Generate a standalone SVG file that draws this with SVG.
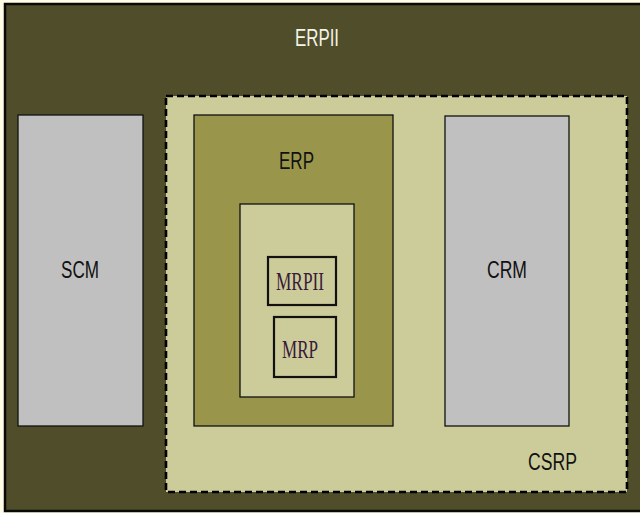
<svg xmlns="http://www.w3.org/2000/svg" width="640" height="513" viewBox="0 0 640 513">
<style>
.sans{font-family:"Liberation Sans",Arial,sans-serif;font-size:24px}
.serif{font-family:"Liberation Serif","Times New Roman",serif;font-size:25px;fill:#3a1a3a}
.box{stroke:#111;stroke-width:1.3}
</style>
<rect x="0" y="0" width="640" height="513" fill="#fffde6"/>
<g id="ERPII">
<rect x="5" y="4" width="640" height="507" fill="#504e2a" stroke="#0a0a05" stroke-width="2.5"/>
<text class="sans" x="295" y="46" textLength="44" lengthAdjust="spacingAndGlyphs" fill="#f4f4e8">ERPII</text>
</g>
<g id="CSRP">
<rect x="166" y="96" width="461" height="396" fill="#cccc9a" stroke="#000" stroke-width="2.6" stroke-dasharray="7,4"/>
<text class="sans" x="528" y="470" textLength="49" lengthAdjust="spacingAndGlyphs" fill="#111">CSRP</text>
</g>
<g id="SCM">
<rect class="box" x="18" y="115" width="125" height="311" fill="#c0c0c0"/>
<text class="sans" x="61" y="278" textLength="38" lengthAdjust="spacingAndGlyphs" fill="#111">SCM</text>
</g>
<g id="CRM">
<rect class="box" x="445" y="116" width="124" height="310" fill="#c0c0c0"/>
<text class="sans" x="487" y="278" textLength="40" lengthAdjust="spacingAndGlyphs" fill="#111">CRM</text>
</g>
<g id="ERP">
<rect class="box" x="194" y="115" width="199" height="311" fill="#99964b"/>
<text class="sans" x="279" y="169" textLength="35" lengthAdjust="spacingAndGlyphs" fill="#111">ERP</text>
</g>
<g id="ERP-inner">
<rect class="box" x="240" y="204" width="114" height="193" fill="#cccc9a"/>
</g>
<g id="MRPII">
<rect x="268" y="257" width="68" height="48" fill="#cccc9a" stroke="#111" stroke-width="2.2"/>
<text class="serif" x="276" y="290" textLength="48" lengthAdjust="spacingAndGlyphs">MRPII</text>
</g>
<g id="MRP">
<rect x="274" y="317" width="62" height="60" fill="#cccc9a" stroke="#111" stroke-width="2.2"/>
<text class="serif" x="282" y="358" textLength="36" lengthAdjust="spacingAndGlyphs">MRP</text>
</g>
<g id="connectors"></g>
</svg>
